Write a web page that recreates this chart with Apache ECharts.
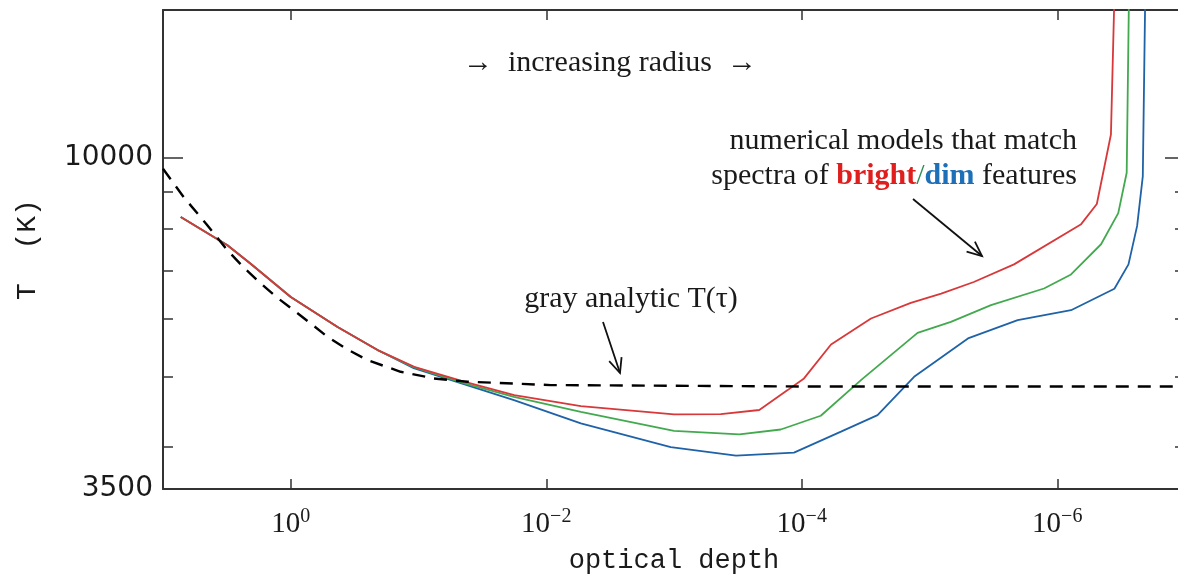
<!DOCTYPE html>
<html>
<head>
<meta charset="utf-8">
<script src="https://cdn.jsdelivr.net/npm/echarts@6/dist/echarts.min.js"></script>
<style>
  html, body { margin: 0; padding: 0; background: #ffffff; }
  #chart { width: 1178px; height: 575px; }
</style>
</head>
<body>
<div id="chart"></div>
<script>
// Temperature structure T(tau) of model atmospheres vs. optical depth.

// bright-feature model
const brightTau = [7.26, 3.13, 2.06, 1.0, 0.43, 0.209, 0.108, 0.044, 0.0178, 0.00536,
  1.0e-3, 4.3e-4, 2.15e-4, 1.29e-4, 9.6e-5, 5.9e-5, 2.87e-5, 1.40e-5, 8.1e-6, 4.5e-6,
  2.18e-6, 6.5e-7, 4.9e-7, 3.8e-7, 3.48e-7];
const brightT = [8295, 7586, 7154, 6437, 5853, 5439, 5158, 4919, 4716, 4554,
  4436, 4439, 4497, 4790, 4971, 5536, 6012, 6316, 6506, 6750,
  7138, 8110, 8646, 10780, 20000];

// intermediate model
const midTau = [7.26, 3.13, 2.06, 1.0, 0.43, 0.209, 0.109, 0.0442, 0.0179, 0.00536,
  1.0e-3, 3.08e-4, 1.46e-4, 7.1e-5, 3.44e-5, 1.24e-5, 6.8e-6, 3.30e-6, 1.27e-6, 7.8e-7,
  4.54e-7, 3.33e-7, 2.86e-7, 2.71e-7];
const midT = [8295, 7586, 7154, 6437, 5853, 5439, 5152, 4898, 4690, 4472,
  4210, 4163, 4227, 4416, 4945, 5744, 5948, 6271, 6612, 6914,
  7609, 8399, 9546, 20000];

// dim-feature model
const dimTau = [7.26, 3.13, 2.06, 1.0, 0.43, 0.209, 0.109, 0.0442, 0.0179, 0.00536,
  1.06e-3, 3.27e-4, 1.15e-4, 4.93e-5, 2.55e-5, 1.32e-5, 5.0e-6, 2.04e-6, 7.8e-7, 3.57e-7,
  2.77e-7, 2.37e-7, 2.14e-7, 2.02e-7];
const dimT = [8295, 7586, 7154, 6437, 5853, 5439, 5135, 4882, 4641, 4310,
  3996, 3891, 3928, 4198, 4425, 4996, 5643, 5980, 6172, 6607,
  7138, 8065, 9437, 20000];

// gray (Eddington) analytic relation
const grayTau = [10, 6.89, 4.6, 3.13, 2.3, 1.72, 1.3, 0.948, 0.7, 0.516, 0.36, 0.251,
  0.138, 0.0759, 0.0413, 0.0092, 1.01e-4, 1.0e-7];
const grayT = [9670, 8837, 8120, 7464, 7050, 6722, 6440, 6172, 5920, 5672, 5450, 5268,
  5077, 4971, 4919, 4867, 4845, 4845];

// axis ticks
const xTickValues = [1, 1e-2, 1e-4, 1e-6];
const yLabelValues = [3500, 10000];
const yMajorTicks = [10000];
const yMinorTicks = [4000, 5000, 6000, 7000, 8000, 9000];

const xRange = [1e-7, 10];
const yRange = [3500, 16000];

function pairs(xs, ys) { return xs.map((x, i) => [x, ys[i]]); }

const AXIS = '#333333';
const INK = '#1a1a1a';
const SERIF = '"Liberation Serif", "Times New Roman", serif';
const MONO = '"Liberation Mono", "DejaVu Sans Mono", monospace';

function expLabel(v) {
  const e = Math.round(Math.log10(v));
  const s = e < 0 ? '\u2212' + (-e) : String(e);
  return '{b|10}{s|' + s + '}';
}

function xAxisDef(pos, withLabels) {
  return {
    type: 'log', logBase: 10, inverse: true,
    min: xRange[0], max: xRange[1], position: pos,
    axisLine: { show: true, onZero: false, lineStyle: { color: AXIS, width: 2 } },
    axisTick: { show: true, inside: true, length: 10, customValues: xTickValues,
      lineStyle: { color: AXIS, width: 1.5 } },
    axisLabel: withLabels ? {
      show: true, customValues: xTickValues, margin: 18, formatter: expLabel,
      rich: {
        b: { fontFamily: SERIF, fontSize: 29, lineHeight: 34, color: INK },
        s: { fontFamily: SERIF, fontSize: 20, lineHeight: 20, verticalAlign: 'top', color: INK }
      }
    } : { show: false },
    splitLine: { show: false },
    minorTick: { show: false },
    name: withLabels ? 'optical depth' : '',
    nameLocation: 'middle', nameGap: 58,
    nameTextStyle: { fontFamily: MONO, fontSize: 27, color: INK }
  };
}

function yAxisDef(pos, ticks, len, showLine, labels, name) {
  return {
    type: 'log', logBase: 10, min: yRange[0], max: yRange[1], position: pos,
    axisLine: { show: showLine, lineStyle: { color: AXIS, width: 2 } },
    axisTick: { show: true, inside: true, length: len, customValues: ticks,
      lineStyle: { color: AXIS, width: 1.5 } },
    axisLabel: labels ? {
      show: true, customValues: labels, margin: 10,
      formatter: v => String(Math.round(v)),
      fontFamily: '"DejaVu Sans", sans-serif', fontSize: 28, color: INK
    } : { show: false },
    splitLine: { show: false },
    minorTick: { show: false },
    name: name || '',
    nameLocation: 'middle', nameGap: 121, nameRotate: 90,
    nameTextStyle: { fontFamily: MONO, fontSize: 28, color: INK }
  };
}

// open V arrow used for the annotations
function arrow(x1, y1, x2, y2) {
  const a = Math.atan2(y2 - y1, x2 - x1), L = 16, w = 0.42;
  return [
    { type: 'polyline', shape: { points: [[x1, y1], [x2, y2]] },
      style: { stroke: '#111', lineWidth: 1.8, fill: null }, z: 10 },
    { type: 'polyline', shape: { points: [
        [x2 - L * Math.cos(a - w), y2 - L * Math.sin(a - w)], [x2, y2],
        [x2 - L * Math.cos(a + w), y2 - L * Math.sin(a + w)]] },
      style: { stroke: '#111', lineWidth: 1.8, fill: null }, z: 10 }
  ];
}

const textFont = '30px ' + SERIF;

const chart = echarts.init(document.getElementById('chart'), null, { renderer: 'canvas' });
chart.setOption({
  animation: false,
  backgroundColor: '#ffffff',
  grid: { left: 163, top: 10, width: 1022, height: 479, containLabel: false, outerBoundsMode: 'none' },
  xAxis: [xAxisDef('bottom', true), xAxisDef('top', false)],
  yAxis: [
    yAxisDef('left', yMajorTicks, 20, true, yLabelValues, 'T  (K)'),
    yAxisDef('left', yMinorTicks, 10, false, null),
    yAxisDef('right', yMajorTicks, 20, true, null),
    yAxisDef('right', yMinorTicks, 10, false, null)
  ],
  series: [
    { name: 'dim', type: 'line', data: pairs(dimTau, dimT), showSymbol: false,
      lineStyle: { color: '#1f62a8', width: 1.8 }, z: 2 },
    { name: 'mid', type: 'line', data: pairs(midTau, midT), showSymbol: false,
      lineStyle: { color: '#43a94f', width: 1.8 }, z: 3 },
    { name: 'bright', type: 'line', data: pairs(brightTau, brightT), showSymbol: false,
      lineStyle: { color: '#d8383a', width: 1.8 }, z: 4 },
    { name: 'gray', type: 'line', data: pairs(grayTau, grayT), showSymbol: false,
      lineStyle: { color: '#000000', width: 2.4, type: [13, 9] }, z: 5 }
  ],
  graphic: [
    { type: 'text', x: 610, y: 63, z: 10,
      style: { text: '\u2192  increasing radius  \u2192', font: textFont, fill: INK,
        align: 'center', verticalAlign: 'middle' } },
    { type: 'text', x: 631, y: 299, z: 10,
      style: { text: 'gray analytic T(\u03c4)', font: textFont, fill: INK,
        align: 'center', verticalAlign: 'middle' } },
    { type: 'text', x: 1077, y: 141, z: 10,
      style: { text: 'numerical models that match', font: textFont, fill: INK,
        align: 'right', verticalAlign: 'middle' } },
    { type: 'text', x: 1077, y: 176, z: 10,
      style: { text: 'spectra of {r|bright}{g|/}{b|dim} features', font: textFont, fill: INK,
        align: 'right', verticalAlign: 'middle',
        rich: {
          r: { fontFamily: SERIF, fontSize: 30, fontWeight: 'bold', fill: '#e01e1e' },
          g: { fontFamily: SERIF, fontSize: 30, fill: '#2e8b57' },
          b: { fontFamily: SERIF, fontSize: 30, fontWeight: 'bold', fill: '#1d6fb8' }
        } } },
    ...arrow(603, 322, 620, 373),
    ...arrow(913, 199, 982, 256)
  ]
});
</script>
</body>
</html>
